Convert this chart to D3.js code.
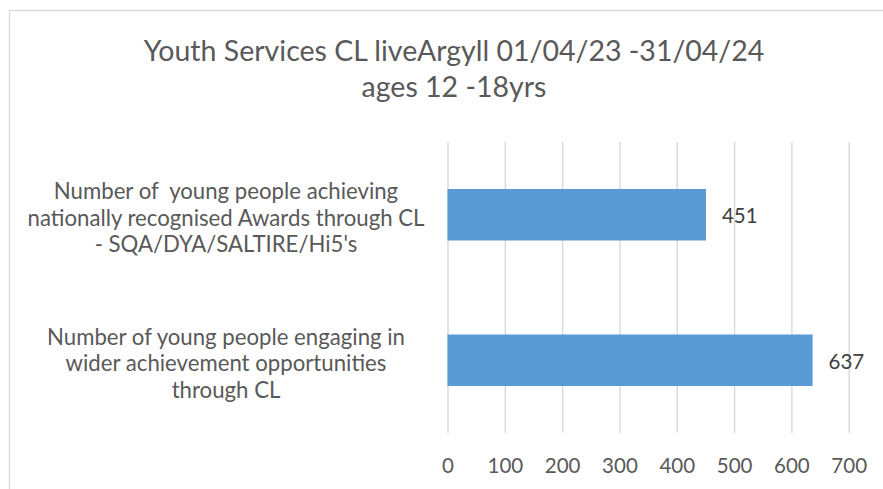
<!DOCTYPE html>
<html>
<head>
<meta charset="utf-8">
<script src="https://cdn.jsdelivr.net/npm/d3@7"></script>
<style>
  html, body { margin: 0; padding: 0; background: #ffffff; }
  svg { display: block; }
  text { font-family: Lato, "Open Sans", sans-serif; white-space: pre; }
</style>
</head>
<body>
<svg id="chart" width="883" height="489"></svg>
<script>
// ---- data ----
const titleLines = ["Youth Services CL liveArgyll 01/04/23 -31/04/24", "ages 12 -18yrs"];
const categories = [
  ["Number of  young people achieving", "nationally recognised Awards through CL", "- SQA/DYA/SALTIRE/Hi5's"],
  ["Number of young people engaging in", "wider achievement opportunities", "through CL"]
];
const values = [451, 637];
const xTicks = [0, 100, 200, 300, 400, 500, 600, 700];

// ---- layout ----
const W = 883, H = 489;
const plot = { left: 447.5, right: 848.7, top: 142, bottom: 433 };
const textColor = "#595959";
const gridColor = "#D9D9D9";
const barColor = "#5B9BD5";

const svg = d3.select("#chart");

// chart border
svg.append("rect")
  .attr("x", 9.5).attr("y", 10.5)
  .attr("width", 900).attr("height", 500)
  .attr("fill", "#fff").attr("stroke", gridColor).attr("stroke-width", 1.3);

// title
svg.append("g").selectAll("text").data(titleLines).join("text")
  .attr("x", 454)
  .attr("y", (d, i) => 61 + i * 36)
  .attr("text-anchor", "middle")
  .attr("fill", textColor)
  .attr("font-size", 28.5)
  .text(d => d);

const x = d3.scaleLinear().domain([0, 700]).range([plot.left, plot.right]);
const idx = categories.map((c, i) => i);
const y = d3.scaleBand().domain(idx).range([plot.top, plot.bottom]).padding(0);
const barH = y.bandwidth() * 0.354;

// gridlines via axis
const grid = svg.append("g")
  .attr("transform", `translate(0,${plot.bottom})`)
  .call(d3.axisBottom(x).tickValues(xTicks).tickSize(-(plot.bottom - plot.top)).tickFormat(""));
grid.select(".domain").remove();
grid.selectAll(".tick line").attr("stroke", gridColor).attr("stroke-width", 1.4);

// tick labels
const xAxis = svg.append("g")
  .attr("transform", `translate(0,${plot.bottom})`)
  .call(d3.axisBottom(x).tickValues(xTicks).tickSize(0).tickPadding(0).tickFormat(d3.format("d")));
xAxis.select(".domain").remove();
xAxis.selectAll(".tick text")
  .attr("dy", null)
  .attr("y", 39.7)
  .attr("fill", textColor)
  .attr("font-size", 20.5)
  .attr("font-family", "Lato, 'Open Sans', sans-serif");

// bars
svg.append("g").selectAll("rect").data(values).join("rect")
  .attr("x", x(0))
  .attr("y", (d, i) => y(i) + y.bandwidth() / 2 - barH / 2)
  .attr("width", d => x(d) - x(0))
  .attr("height", barH)
  .attr("fill", barColor);

// value labels
svg.append("g").selectAll("text").data(values).join("text")
  .attr("x", d => x(d) + 16)
  .attr("y", (d, i) => y(i) + y.bandwidth() / 2 + 8.5)
  .attr("fill", "#404040")
  .attr("font-size", 20.5)
  .text(d => d);

// category labels
const catG = svg.append("g");
categories.forEach((lines, i) => {
  const cy = y(i) + y.bandwidth() / 2;
  catG.append("text")
    .attr("text-anchor", "middle")
    .attr("fill", textColor)
    .attr("font-size", 22.2)
    .attr("xml:space", "preserve")
    .selectAll("tspan").data(lines).join("tspan")
    .attr("x", 226)
    .attr("y", (d, j) => cy + 11 + (j - 1) * 26.7)
    .text(d => d);
});
</script>
</body>
</html>
